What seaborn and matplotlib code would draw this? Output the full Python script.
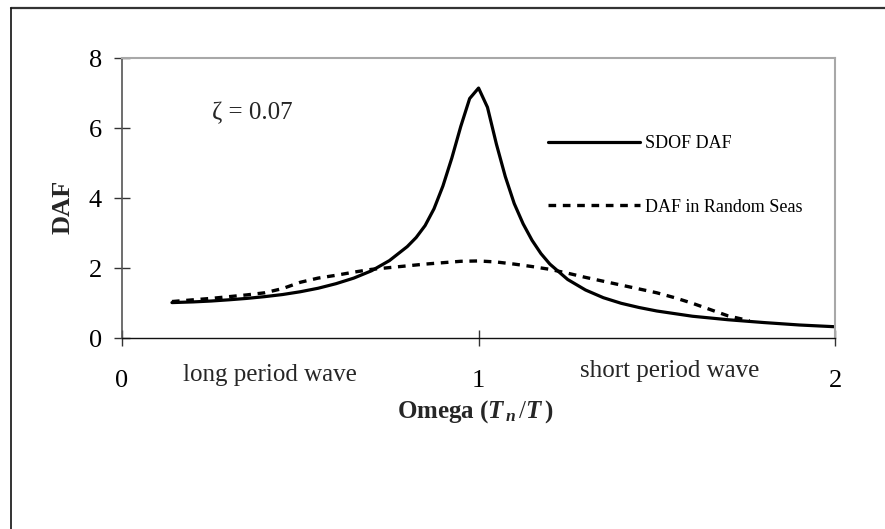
import numpy as np
import pandas as pd
import matplotlib
matplotlib.use('Agg')
import matplotlib.pyplot as plt
from matplotlib.lines import Line2D
import seaborn as sns

# values
omega_sdof = [0.14, 0.2, 0.25, 0.3, 0.35, 0.4, 0.45, 0.5, 0.55, 0.6, 0.65,
              0.7, 0.75, 0.8, 0.825, 0.85, 0.875, 0.9, 0.925, 0.95, 0.975,
              1.0, 1.025, 1.05, 1.075, 1.1, 1.125, 1.15, 1.175, 1.2, 1.25,
              1.3, 1.35, 1.4, 1.45, 1.5, 1.6, 1.7, 1.8, 1.9, 2.0]
daf_sdof = [1.02, 1.04, 1.065, 1.10, 1.14, 1.19, 1.25, 1.33, 1.43, 1.56, 1.72,
            1.93, 2.22, 2.62, 2.88, 3.22, 3.7, 4.35, 5.15, 6.05, 6.85,
            7.15, 6.6, 5.55, 4.62, 3.85, 3.27, 2.8, 2.42, 2.12, 1.68,
            1.38, 1.16, 1.0, 0.88, 0.78, 0.63, 0.53, 0.45, 0.38, 0.33]

omega_random = [0.14, 0.2, 0.25, 0.3, 0.35, 0.4, 0.45, 0.5, 0.55, 0.6, 0.65,
                0.7, 0.75, 0.8, 0.85, 0.9, 0.95, 1.0, 1.05, 1.1, 1.15, 1.2,
                1.25, 1.3, 1.35, 1.4, 1.45, 1.5, 1.55, 1.6, 1.65, 1.7, 1.76]
daf_random = [1.05, 1.1, 1.14, 1.19, 1.24, 1.3, 1.42, 1.6, 1.72, 1.8, 1.89,
              1.97, 2.02, 2.07, 2.12, 2.16, 2.2, 2.21, 2.18, 2.12, 2.05, 1.97,
              1.86, 1.74, 1.63, 1.52, 1.41, 1.3, 1.16, 1.0, 0.82, 0.64, 0.5]

x_ticks = [0, 1, 2]
y_ticks = [0, 2, 4, 6, 8]

sns.set_theme(style='white')
plt.rcParams['font.family'] = ['Liberation Serif', 'DejaVu Serif']
plt.rcParams['mathtext.fontset'] = 'custom'
plt.rcParams['mathtext.rm'] = 'Liberation Serif'
plt.rcParams['mathtext.it'] = 'Liberation Serif:italic'
plt.rcParams['mathtext.bf'] = 'Liberation Serif:bold'
plt.rcParams['mathtext.bfit'] = 'Liberation Serif:bold:italic'

df_sdof = pd.DataFrame({'omega': omega_sdof, 'daf': daf_sdof})
df_rand = pd.DataFrame({'omega': omega_random, 'daf': daf_random})

fig = plt.figure(figsize=(8.85, 5.29), dpi=100)
ax = fig.add_axes([0.1379, 0.3605, 0.8057, 0.5293])

sns.lineplot(data=df_sdof, x='omega', y='daf', ax=ax, color='black',
             linewidth=2.3, sort=False, estimator=None, label='SDOF DAF')
sns.lineplot(data=df_rand, x='omega', y='daf', ax=ax, color='black',
             linewidth=2.4, sort=False, estimator=None,
             label='DAF in Random Seas', dashes=False)
ax.lines[1].set_dashes([2.3, 2.0])
for ln in ax.lines:
    ln.set_solid_joinstyle('round')

ax.set_xlim(0, 2)
ax.set_ylim(0, 8)
ax.set_xticks(x_ticks)
ax.set_yticks(y_ticks)
ax.set_xticklabels([str(v) for v in x_ticks])
ax.set_yticklabels([str(v) for v in y_ticks])
ax.tick_params(axis='both', direction='inout', length=12, width=1,
               color='#333333', labelsize=19, labelcolor='black',
               bottom=True, left=True)
ax.tick_params(axis='x', pad=17)
ax.tick_params(axis='y', pad=8.5)
ax.set_xlabel('')
ax.set_ylabel('')

ax.spines['left'].set_color('#555555')
ax.spines['left'].set_linewidth(1.2)
ax.spines['bottom'].set_color('#111111')
ax.spines['bottom'].set_linewidth(1.0)
for s in ['top', 'right']:
    ax.spines[s].set_color('#a8a8a8')
    ax.spines[s].set_linewidth(1.5)

leg = ax.legend(loc='upper left', bbox_to_anchor=(0.5975, 0.726),
                frameon=False, fontsize=13, handlelength=5.1,
                handletextpad=0.25, labelspacing=2.58, borderpad=0,
                borderaxespad=0)
for t in leg.get_texts():
    t.set_color('black')

ax.text(0.2516, 6.44, '\u03b6 = 0.07', fontsize=18, ha='left', va='center')

fig.text(183 / 885, 1 - 381 / 529, 'long period wave', fontsize=18,
         ha='left', va='baseline')
fig.text(580 / 885, 1 - 377 / 529, 'short period wave', fontsize=18,
         ha='left', va='baseline')

fig.text(475 / 885, 1 - 418 / 529,
         r'Omega ($\mathbfit{T}_{\,\mathbfit{n}}\,/\mathbfit{T}\,$)',
         fontsize=18, fontweight='bold', ha='center', va='baseline')
fig.text(63 / 885, 1 - 206.7 / 529, 'DAF', fontsize=19, fontweight='bold',
         rotation=90, ha='center', va='center')

# outer chart frame (top and left edges only)
fig.add_artist(Line2D([10.5 / 885, 1.0], [1 - 7.5 / 529, 1 - 7.5 / 529],
                      transform=fig.transFigure, color='#333333', linewidth=1.6))
fig.add_artist(Line2D([10.5 / 885, 10.5 / 885], [1 - 7.5 / 529, 0.0],
                      transform=fig.transFigure, color='#111111', linewidth=1.2))

fig.savefig('out.png', dpi=100)
